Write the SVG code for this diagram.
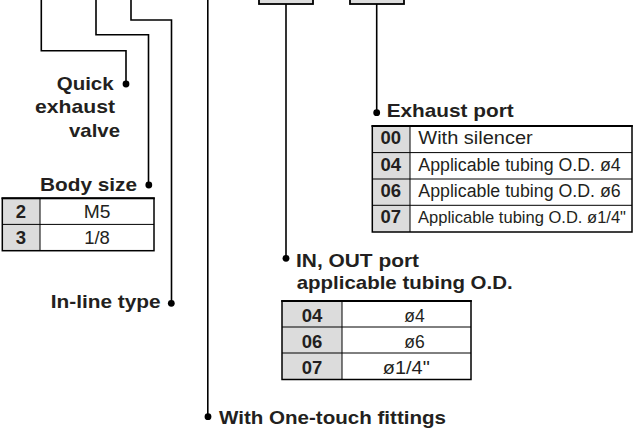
<svg xmlns="http://www.w3.org/2000/svg" width="633" height="428" viewBox="0 0 633 428">
<style>
.ln{fill:none;stroke:#000;stroke-width:1.6}
.dot{fill:#000}
.lb{font-family:"Liberation Sans",Arial,sans-serif;font-weight:bold;font-size:19px;fill:#231f20}
.nb{font-family:"Liberation Sans",Arial,sans-serif;font-weight:bold;font-size:18.5px;fill:#231f20;text-anchor:middle}
.tx{font-family:"Liberation Sans",Arial,sans-serif;font-size:18px;fill:#231f20}
.txs{font-family:"Liberation Sans",Arial,sans-serif;font-size:17px;fill:#231f20}
.txc{font-family:"Liberation Sans",Arial,sans-serif;font-size:17.5px;fill:#231f20;text-anchor:middle}
.g{fill:#dcdcdc}
.w{fill:#fff}
.bx{fill:none;stroke:#000;stroke-width:1.5}
.tp{stroke:#000;stroke-width:2}
.rl{stroke:#000;stroke-width:1}
.box{fill:#dcdcdc;stroke:#000;stroke-width:1.8}
</style>
<g id="top-boxes">
<rect class="box" x="259" y="-10" width="54" height="14"/>
<rect class="box" x="350" y="-10" width="54" height="14"/>
</g>
<g id="connectors">
<path class="ln" d="M41.3,0 V50.7 H126 V84"/>
<path class="ln" d="M96,0 V34.7 H148.5 V185"/>
<path class="ln" d="M131,0 V20 H171.5 V303"/>
<path class="ln" d="M207.8,0 V416.7"/>
<path class="ln" d="M286,4 V258.3"/>
<path class="ln" d="M376.7,4 V112.7"/>
<circle class="dot" cx="126" cy="84" r="3.4"/>
<circle class="dot" cx="148.8" cy="185" r="3.4"/>
<circle class="dot" cx="171.3" cy="303.3" r="3.4"/>
<circle class="dot" cx="208" cy="416.7" r="3.4"/>
<circle class="dot" cx="286" cy="258.3" r="3.4"/>
<circle class="dot" cx="376.7" cy="112.7" r="3.4"/>
</g>
<g id="quick-exhaust">
<text class="lb" x="56.7" y="89.5" textLength="57" lengthAdjust="spacingAndGlyphs">Quick</text>
<text class="lb" x="35" y="113.3" textLength="80" lengthAdjust="spacingAndGlyphs">exhaust</text>
<text class="lb" x="69" y="136.7" textLength="51" lengthAdjust="spacingAndGlyphs">valve</text>
</g>
<g id="body-size">
<text class="lb" x="40" y="190.7" textLength="97" lengthAdjust="spacingAndGlyphs">Body size</text>
<rect class="g" x="2.3" y="198.3" width="37.7" height="52.4"/>
<rect class="w" x="40" y="198.3" width="114" height="52.4"/>
<line class="rl" x1="2.3" y1="224.4" x2="154" y2="224.4"/>
<line class="rl" x1="40" y1="198.3" x2="40" y2="250.7"/>
<rect class="bx" x="2.3" y="198.3" width="151.7" height="52.4"/>
<line class="tp" x1="1.5" y1="198.3" x2="154.8" y2="198.3"/>
<text class="nb" x="20.8" y="217.7">2</text>
<text class="nb" x="20.8" y="244">3</text>
<text class="txc" x="97" y="217.7" textLength="26.7" lengthAdjust="spacingAndGlyphs">M5</text>
<text class="txc" x="97" y="244" textLength="25.7" lengthAdjust="spacingAndGlyphs">1/8</text>
</g>
<g id="inline-type">
<text class="lb" x="50.7" y="307.7" textLength="110" lengthAdjust="spacingAndGlyphs">In-line type</text>
</g>
<g id="exhaust-port">
<text class="lb" x="386.7" y="117.3" textLength="127" lengthAdjust="spacingAndGlyphs">Exhaust port</text>
<rect class="g" x="372.3" y="126" width="37.7" height="106"/>
<rect class="w" x="410" y="126" width="222" height="106"/>
<line class="rl" x1="372.3" y1="152.6" x2="632" y2="152.6"/>
<line class="rl" x1="372.3" y1="179" x2="632" y2="179"/>
<line class="rl" x1="372.3" y1="205.3" x2="632" y2="205.3"/>
<line class="rl" x1="410" y1="126" x2="410" y2="232"/>
<rect class="bx" x="372.3" y="126" width="259.7" height="106"/>
<line class="tp" x1="371.5" y1="126" x2="632.8" y2="126"/>
<text class="nb" x="390.8" y="144.3">00</text>
<text class="nb" x="390.8" y="170.7">04</text>
<text class="nb" x="390.8" y="196.7">06</text>
<text class="nb" x="390.8" y="222.7">07</text>
<text class="tx" x="418.3" y="144.3" textLength="114.4" lengthAdjust="spacingAndGlyphs">With silencer</text>
<text class="tx" x="418.3" y="170.7" textLength="202.4" lengthAdjust="spacingAndGlyphs">Applicable tubing O.D. ø4</text>
<text class="tx" x="418.3" y="196.7" textLength="202.4" lengthAdjust="spacingAndGlyphs">Applicable tubing O.D. ø6</text>
<text class="txs" x="418" y="222.7" textLength="208" lengthAdjust="spacingAndGlyphs">Applicable tubing O.D. ø1/4"</text>
</g>
<g id="in-out-port">
<text class="lb" x="296" y="267.3" textLength="123" lengthAdjust="spacingAndGlyphs">IN, OUT port</text>
<text class="lb" x="296.7" y="289.3" textLength="216" lengthAdjust="spacingAndGlyphs">applicable tubing O.D.</text>
<rect class="g" x="282" y="301" width="60" height="78.5"/>
<rect class="w" x="342" y="301" width="129" height="78.5"/>
<line class="rl" x1="282" y1="327" x2="471" y2="327"/>
<line class="rl" x1="282" y1="353" x2="471" y2="353"/>
<line class="rl" x1="342" y1="301" x2="342" y2="379.5"/>
<rect class="bx" x="282" y="301" width="189" height="78.5"/>
<line class="tp" x1="281.2" y1="301" x2="471.8" y2="301"/>
<text class="nb" x="312" y="321.5">04</text>
<text class="nb" x="312" y="347.5">06</text>
<text class="nb" x="312" y="373.5">07</text>
<text class="txc" x="414.5" y="321.5">ø4</text>
<text class="txc" x="414.5" y="347.5">ø6</text>
<text class="txc" x="406.3" y="373.5" textLength="47" lengthAdjust="spacingAndGlyphs">ø1/4"</text>
</g>
<g id="one-touch">
<text class="lb" x="219" y="424.3" textLength="227" lengthAdjust="spacingAndGlyphs">With One-touch fittings</text>
</g>
</svg>
